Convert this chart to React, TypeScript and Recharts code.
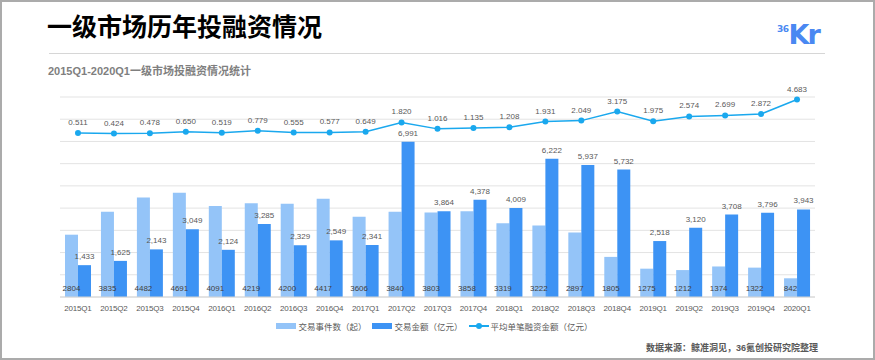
import React from "react";
import {
  ComposedChart,
  Bar,
  Line,
  XAxis,
  YAxis,
  CartesianGrid,
  Legend,
  LabelList,
} from "recharts";

const quarters = [
  "2015Q1", "2015Q2", "2015Q3", "2015Q4",
  "2016Q1", "2016Q2", "2016Q3", "2016Q4",
  "2017Q1", "2017Q2", "2017Q3", "2017Q4",
  "2018Q1", "2018Q2", "2018Q3", "2018Q4",
  "2019Q1", "2019Q2", "2019Q3", "2019Q4",
  "2020Q1",
];

const dealCounts = [
  2804, 3835, 4482, 4691, 4091, 4219, 4200, 4417, 3606, 3840, 3803, 3858,
  3319, 3222, 2897, 1805, 1275, 1212, 1374, 1322, 842,
];

const dealAmounts = [
  1433, 1625, 2143, 3049, 2124, 3285, 2329, 2549, 2341, 6991, 3864, 4378,
  4009, 6222, 5937, 5732, 2518, 3120, 3708, 3796, 3943,
];

const avgAmounts = [
  0.511, 0.424, 0.478, 0.65, 0.519, 0.779, 0.555, 0.577, 0.649, 1.82, 1.016,
  1.135, 1.208, 1.931, 2.049, 3.175, 1.975, 2.574, 2.699, 2.872, 4.683,
];

const leftTicks = [0, 1000, 2000, 3000, 4000, 5000, 6000, 7000, 8000, 9000];

const LIGHT = "#94c4f8";
const DARK = "#3d93f4";
const LINE = "#1aa8ee";
const FONT = "'Liberation Sans', 'Noto Sans CJK SC', sans-serif";

const chartData = quarters.map((q, i) => ({
  quarter: q,
  count: dealCounts[i],
  amount: dealAmounts[i],
  avg: avgAmounts[i],
}));

const legendItems = [
  { label: "交易事件数（起）", color: LIGHT, kind: "rect" },
  { label: "交易金额（亿元）", color: DARK, kind: "rect" },
  { label: "平均单笔融资金额（亿元）", color: LINE, kind: "line" },
];

const renderLegend = () => (
  <div
    style={{
      display: "flex",
      justifyContent: "center",
      alignItems: "center",
      gap: 6,
      fontFamily: FONT,
      fontSize: 8.5,
      color: "#595959",
    }}
  >
    {legendItems.map((item) => (
      <div key={item.label} style={{ display: "flex", alignItems: "center" }}>
        {item.kind === "rect" ? (
          <div style={{ width: 20, height: 6, background: item.color, marginRight: 2 }} />
        ) : (
          <svg width={20} height={8} style={{ marginRight: 2 }}>
            <line x1={0} y1={4} x2={20} y2={4} stroke={item.color} strokeWidth={2} />
            <circle cx={10} cy={4} r={3} fill={item.color} />
          </svg>
        )}
        <span>{item.label}</span>
      </div>
    ))}
  </div>
);

export default function App() {
  return (
    <div
      style={{
        position: "absolute",
        left: 0,
        top: 0,
        width: 875,
        height: 360,
        background: "#fff",
        overflow: "hidden",
      }}
    >
      <ComposedChart
        width={875}
        height={360}
        data={chartData}
        margin={{ top: 97, right: 60, bottom: 33, left: 60 }}
        barGap={0}
        style={{ position: "absolute", left: 0, top: 0 }}
      >
        <CartesianGrid
          vertical={false}
          stroke="#e3e3e3"
          yAxisId="left"
        />
        <XAxis
          dataKey="quarter"
          interval={0}
          tickLine={false}
          axisLine={{ stroke: "#d4d4d4" }}
          tick={{ fontSize: 8, fill: "#595959", fontFamily: FONT, letterSpacing: -0.2 }}
          height={30}
        />
        <YAxis
          yAxisId="left"
          hide
          domain={[0, 9000]}
          ticks={leftTicks}
          interval={0}
        />
        <YAxis yAxisId="right" orientation="right" hide domain={[-20, 5]} />
        <Bar
          yAxisId="left"
          dataKey="count"
          fill={LIGHT}
          barSize={13}
          isAnimationActive={false}
        >
          <LabelList
            dataKey="count"
            position="insideBottom"
            offset={6}
            style={{ fontSize: 8, fill: "#404040", fontFamily: FONT }}
          />
        </Bar>
        <Bar
          yAxisId="left"
          dataKey="amount"
          fill={DARK}
          barSize={13}
          isAnimationActive={false}
        >
          <LabelList
            dataKey="amount"
            position="top"
            offset={6}
            formatter={(v: any) => Number(v).toLocaleString("en-US")}
            style={{ fontSize: 8, fill: "#595959", fontFamily: FONT }}
          />
        </Bar>
        <Line
          yAxisId="right"
          dataKey="avg"
          stroke={LINE}
          strokeWidth={1.5}
          dot={{ r: 3, fill: LINE, stroke: LINE, strokeWidth: 0 }}
          isAnimationActive={false}
        >
          <LabelList
            dataKey="avg"
            position="top"
            offset={8}
            formatter={(v: any) => Number(v).toFixed(3)}
            style={{ fontSize: 8, fill: "#595959", fontFamily: FONT }}
          />
        </Line>
        <Legend
          verticalAlign="middle"
          content={renderLegend}
          wrapperStyle={{ left: 0, top: 320, width: 869, height: 14 }}
        />
      </ComposedChart>

      <div
        style={{
          position: "absolute",
          left: 47,
          top: 12,
          fontFamily: "'Noto Sans CJK SC', sans-serif",
          fontWeight: 700,
          fontSize: 25,
          lineHeight: "26px",
          color: "#000",
        }}
      >
        一级市场历年投融资情况
      </div>
      <div
        style={{
          position: "absolute",
          left: 49,
          top: 53,
          width: 776,
          height: 1,
          background: "#d6d6d6",
        }}
      />
      <div
        style={{
          position: "absolute",
          left: 777,
          top: 21,
          color: "#4a88f2",
          fontFamily: "'DejaVu Sans', sans-serif",
          fontWeight: 700,
          display: "flex",
          alignItems: "flex-start",
        }}
      >
        <span style={{ fontSize: 9, lineHeight: "12px", marginTop: 2, letterSpacing: -0.5 }}>36</span>
        <span style={{ fontSize: 27, lineHeight: "28px", letterSpacing: -2 }}>Kr</span>
      </div>
      <div
        style={{
          position: "absolute",
          left: 48,
          top: 63,
          fontFamily: FONT,
          fontWeight: 700,
          fontSize: 11,
          lineHeight: "16px",
          color: "#7f7f7f",
        }}
      >
        2015Q1-2020Q1一级市场投融资情况统计
      </div>
      <div
        style={{
          position: "absolute",
          right: 57,
          top: 341,
          fontFamily: FONT,
          fontWeight: 700,
          fontSize: 9,
          lineHeight: "14px",
          color: "#595959",
        }}
      >
        数据来源：鲸准洞见，36氪创投研究院整理
      </div>
      <div
        style={{
          position: "absolute",
          left: 0,
          top: 0,
          width: 875,
          height: 360,
          boxSizing: "border-box",
          border: "2px solid #ababab",
          pointerEvents: "none",
        }}
      />
    </div>
  );
}
